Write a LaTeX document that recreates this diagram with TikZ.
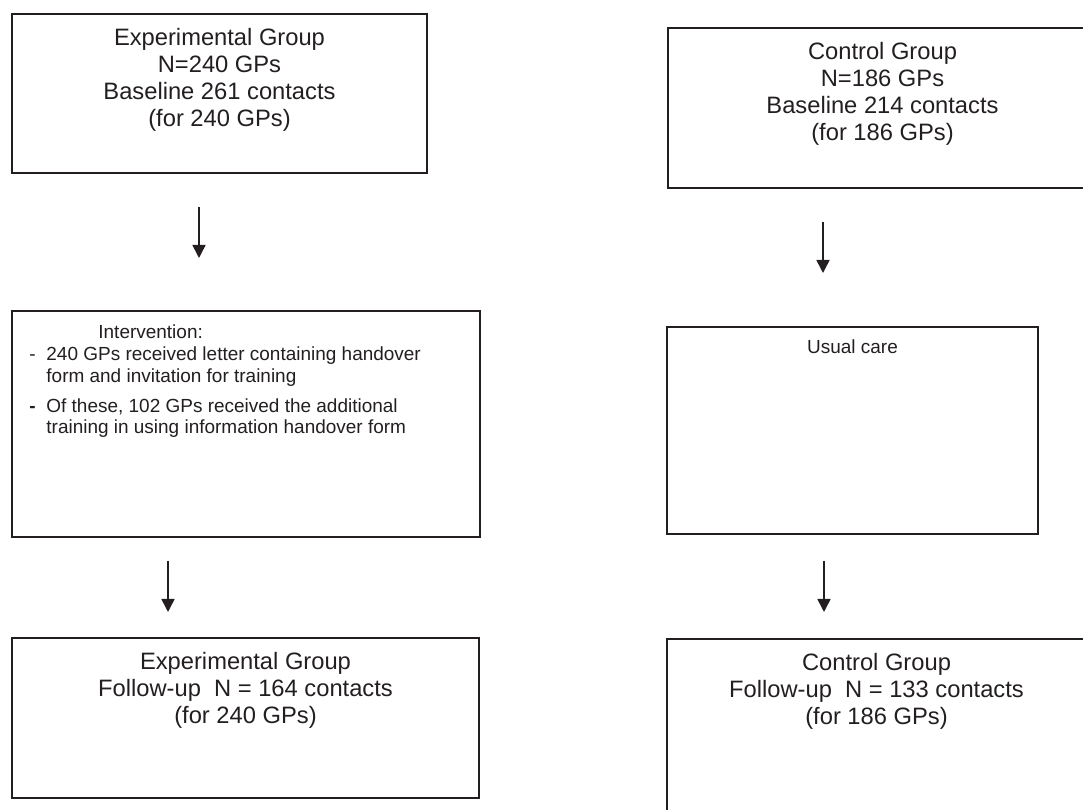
\documentclass[tikz,border=0pt]{standalone}
\usepackage{fontspec}
\setmainfont{Liberation Sans}
\usetikzlibrary{arrows.meta}
\definecolor{ink}{HTML}{231F20}

\begin{document}
\begin{tikzpicture}[x=0.02cm, y=-0.02cm,
  grpbox/.style={draw=ink, line width=1.1pt, inner sep=0pt},
  bigtxt/.style={font=\fontsize{13.5}{15.4}\selectfont, text=ink, align=center, inner sep=0pt},
  smalltxt/.style={font=\fontsize{10.8}{12.5}\selectfont, text=ink, align=left, inner sep=0pt},
  flow/.style={draw=ink, line width=0.9pt, -{Triangle[length=0.26cm, width=0.26cm]}}]

\useasboundingbox (0,0) rectangle (1083,810);
\clip (0,0) rectangle (1083,810);

% boxes
\node[grpbox, minimum width=8.3cm, minimum height=3.18cm] (exp1) at (219.5,93.5) {};
\node[grpbox, minimum width=8.58cm, minimum height=3.2cm] (ctl1) at (882.5,108) {};
\node[grpbox, minimum width=9.36cm, minimum height=4.52cm] (intv) at (246,424) {};
\node[grpbox, minimum width=7.42cm, minimum height=4.14cm] (usual) at (852.5,430.5) {};
\node[grpbox, minimum width=9.34cm, minimum height=3.2cm] (exp2) at (245.5,718) {};
\node[grpbox, minimum width=8.38cm, minimum height=4.02cm] (ctl2) at (876.5,739.5) {};

% texts
\node[bigtxt, anchor=north] (exp1txt) at ([yshift=-0.3cm]exp1.north)
  {Experimental Group\\N=240 GPs\\Baseline 261 contacts\\(for 240 GPs)};
\node[bigtxt, anchor=north] (ctl1txt) at ([yshift=-0.3cm]ctl1.north)
  {Control Group\\N=186 GPs\\Baseline 214 contacts\\(for 186 GPs)};
\node[smalltxt, anchor=north west] (intvtxt) at ([xshift=0.36cm, yshift=-0.28cm]intv.north west)
  {\hspace*{1.38cm}Intervention:\\
   \makebox[0.34cm][l]{-}240 GPs received letter containing handover\\
   \hspace*{0.34cm}form and invitation for training\\[0.16cm]
   \makebox[0.34cm][l]{\textbf{-}}Of these, 102 GPs received the additional\\
   \hspace*{0.34cm}training in using information handover form};
\node[smalltxt, anchor=north] (usualtxt) at ([yshift=-0.26cm]usual.north) {Usual care};
\node[bigtxt, anchor=north] (exp2txt) at ([yshift=-0.3cm]exp2.north)
  {Experimental Group\\Follow-up\ \ N = 164 contacts\\(for 240 GPs)};
\node[bigtxt, anchor=north] (ctl2txt) at ([yshift=-0.3cm]ctl2.north)
  {Control Group\\Follow-up\ \ N = 133 contacts\\(for 186 GPs)};

% arrows
\coordinate (a1s) at (199,207);
\coordinate (a1e) at (199,258);
\coordinate (a2s) at (823,222);
\coordinate (a2e) at (823,273);
\coordinate (a3s) at (168,561);
\coordinate (a3e) at (168,612);
\coordinate (a4s) at (824,561);
\coordinate (a4e) at (824,612);

\draw[flow] (a1s) -- (a1e);
\draw[flow] (a2s) -- (a2e);
\draw[flow] (a3s) -- (a3e);
\draw[flow] (a4s) -- (a4e);

\end{tikzpicture}
\end{document}
